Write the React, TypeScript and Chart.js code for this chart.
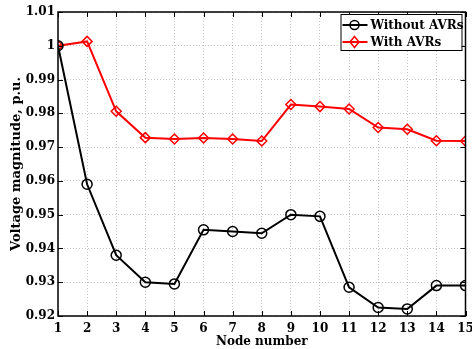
import React, { useEffect, useRef } from "react";
import { Chart, registerables } from "chart.js";

Chart.register(...registerables);

const nodes = [1, 2, 3, 4, 5, 6, 7, 8, 9, 10, 11, 12, 13, 14, 15];
const withoutAVRs = [1.0, 0.959, 0.938, 0.93, 0.9295, 0.9455, 0.945, 0.9445, 0.95, 0.9495, 0.9285, 0.9225, 0.9221, 0.929, 0.929];
const withAVRs = [1.0, 1.0013, 0.9806, 0.9728, 0.9724, 0.9727, 0.9724, 0.9718, 0.9826, 0.982, 0.9813, 0.9758, 0.9753, 0.9719, 0.9718];
const seriesLabels = ["Without AVRs", "With AVRs"];
const xTitle = "Node number";
const yTitle = "Voltage magnitude, p.u.";

const FONT = "'DejaVu Serif', serif";

const frame = {
  id: "frame",
  afterDraw(chart: any) {
    const { ctx, chartArea: a, scales } = chart;
    ctx.save();
    ctx.strokeStyle = "#000";
    ctx.lineWidth = 1;
    ctx.beginPath();
    const tl = 5;
    scales.x.ticks.forEach((t: any) => {
      const px = Math.round(scales.x.getPixelForValue(t.value)) + 0.5;
      ctx.moveTo(px, a.bottom);
      ctx.lineTo(px, a.bottom - tl);
      ctx.moveTo(px, a.top);
      ctx.lineTo(px, a.top + tl);
    });
    scales.y.ticks.forEach((t: any) => {
      const py = Math.round(scales.y.getPixelForValue(t.value)) + 0.5;
      ctx.moveTo(a.left, py);
      ctx.lineTo(a.left + tl, py);
      ctx.moveTo(a.right, py);
      ctx.lineTo(a.right - tl, py);
    });
    ctx.stroke();
    ctx.lineWidth = 1.5;
    ctx.strokeRect(a.left, a.top, a.right - a.left, a.bottom - a.top);

    // legend
    const w = 121, h = 36;
    const lx = a.right - 4 - w, ly = a.top + 2;
    ctx.fillStyle = "#fff";
    ctx.fillRect(lx, ly, w, h);
    ctx.lineWidth = 1;
    ctx.strokeStyle = "#000";
    ctx.strokeRect(lx + 0.5, ly + 0.5, w, h);
    chart.data.datasets.forEach((ds: any, i: number) => {
      const cy = ly + 11 + i * 17;
      ctx.strokeStyle = ds.borderColor;
      ctx.lineWidth = 2;
      ctx.beginPath();
      ctx.moveTo(lx + 2, cy);
      ctx.lineTo(lx + 27, cy);
      ctx.stroke();
      ctx.lineWidth = 1.5;
      ctx.beginPath();
      const mx = lx + 14;
      if (ds.pointStyle === "rectRot") {
        ctx.moveTo(mx, cy - 5.5);
        ctx.lineTo(mx + 4.5, cy);
        ctx.lineTo(mx, cy + 5.5);
        ctx.lineTo(mx - 4.5, cy);
        ctx.closePath();
      } else {
        ctx.arc(mx, cy, 4.5, 0, Math.PI * 2);
      }
      ctx.stroke();
      ctx.fillStyle = "#000";
      ctx.font = `bold 12px ${FONT}`;
      ctx.textBaseline = "middle";
      ctx.textAlign = "left";
      ctx.fillText(ds.label, lx + 30, cy + 1);
    });
    ctx.restore();
  },
};

export default function App() {
  const ref = useRef<HTMLCanvasElement>(null);
  useEffect(() => {
    const chart = new Chart(ref.current!, {
      type: "line",
      data: {
        datasets: [
          {
            label: seriesLabels[0],
            data: nodes.map((n, i) => ({ x: n, y: withoutAVRs[i] })),
            borderColor: "#000",
            backgroundColor: "transparent",
            borderWidth: 2,
            pointStyle: "circle",
            pointRadius: 5,
            pointBorderWidth: 1.5,
            pointBackgroundColor: "transparent",
            pointBorderColor: "#000",
          },
          {
            label: seriesLabels[1],
            data: nodes.map((n, i) => ({ x: n, y: withAVRs[i] })),
            borderColor: "#ff0000",
            backgroundColor: "transparent",
            borderWidth: 2,
            pointStyle: "rectRot",
            pointRadius: 5,
            pointBorderWidth: 1.5,
            pointBackgroundColor: "transparent",
            pointBorderColor: "#ff0000",
          },
        ],
      },
      options: {
        animation: false,
        responsive: false,
        maintainAspectRatio: false,
        layout: { padding: { top: 12, right: 5, left: 0, bottom: 0 } },
        plugins: { legend: { display: false }, tooltip: { enabled: false } },
        scales: {
          x: {
            type: "linear",
            min: 1,
            max: 15,
            ticks: {
              stepSize: 1,
              color: "#000",
              font: { family: FONT, weight: "bold", size: 12 },
              padding: 6,
              maxRotation: 0,
            },
            grid: { color: "#c4c4c4", drawTicks: false, lineWidth: 1 },
            border: { display: false, dash: [1, 2] },
            title: {
              display: true,
              text: xTitle,
              color: "#000",
              font: { family: FONT, weight: "bold", size: 12 },
              padding: { top: 0, bottom: 0 },
            },
            afterFit(s: any) {
              s.height = 33;
              s.paddingLeft = 0;
              s.paddingRight = 0;
            },
          },
          y: {
            min: 0.92,
            max: 1.01,
            ticks: {
              stepSize: 0.01,
              color: "#000",
              font: { family: FONT, weight: "bold", size: 12 },
              padding: 3,
              callback: (v: any) => String(Number(Number(v).toFixed(2))),
            },
            grid: { color: "#c4c4c4", drawTicks: false, lineWidth: 1 },
            border: { display: false, dash: [1, 2] },
            title: {
              display: true,
              text: yTitle,
              color: "#000",
              font: { family: FONT, weight: "bold", size: 13 },
              padding: { top: 9, bottom: 0 },
            },
            afterFit(s: any) {
              s.width = 58;
              s.paddingTop = 0;
              s.paddingBottom = 0;
            },
          },
        },
      },
      plugins: [frame],
    } as any);
    return () => chart.destroy();
  }, []);
  return (
    <div style={{ position: "absolute", left: 0, top: 0, width: 472, height: 349, background: "#fff" }}>
      <canvas ref={ref} width={472} height={349} style={{ width: 472, height: 349 }} />
    </div>
  );
}
